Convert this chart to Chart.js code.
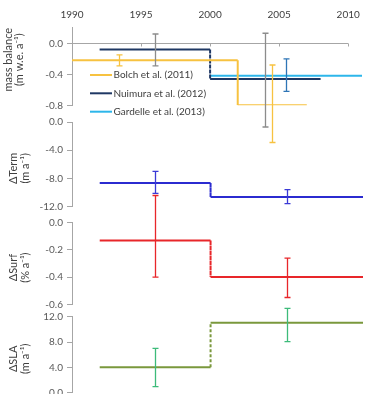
<!DOCTYPE html>
<html><head><meta charset="utf-8">
<script src="https://cdn.jsdelivr.net/npm/chart.js@4.4.0/dist/chart.umd.min.js"></script>
<style>
html,body{margin:0;padding:0;background:#fff;overflow:hidden;width:367px;height:394px}
canvas{position:absolute;left:0;top:0}
</style></head><body>
<canvas id="c1" width="367" height="420"></canvas>
<canvas id="c2" width="367" height="420"></canvas>
<canvas id="c3" width="367" height="420"></canvas>
<canvas id="c4" width="367" height="420"></canvas>
<script>
// ---- data ----
const years = [1990, 1995, 2000, 2005, 2010];
const mbTicks = [0, -0.4, -0.8];
const termTicks = [0, -4, -8, -12];
const surfTicks = [0, -0.2, -0.4, -0.6];
const slaTicks = [12, 8, 4, 0];

const legendLabels = ['Bolch et al. (2011)', 'Nuimura et al. (2012)', 'Gardelle et al. (2013)'];

const bolchPeriods = [[1990, 2002], [2002, 2007]];
const bolchValues = [-0.22, -0.80];
const bolchErrX = [1993.4, 2004.5];
const bolchErrLow = [-0.29, -1.28];
const bolchErrHigh = [-0.15, -0.28];

const nuimuraPeriods = [[1992, 2000], [2000, 2008]];
const nuimuraValues = [-0.08, -0.46];
const nuimuraErrX = [1996, 2004];
const nuimuraErrLow = [-0.29, -1.08];
const nuimuraErrHigh = [0.12, 0.13];

const gardellePeriods = [[2000, 2011]];
const gardelleValues = [-0.42];
const gardelleErrX = [2005.5];
const gardelleErrLow = [-0.62];
const gardelleErrHigh = [-0.20];

const periods = [[1992, 2000], [2000, 2011]];
const errX = [1996, 2005.5];
const termValues = [-8.65, -10.65];
const termErrLow = [-10.15, -11.6];
const termErrHigh = [-7.0, -9.6];
const surfValues = [-0.13, -0.40];
const surfErrLow = [-0.40, -0.55];
const surfErrHigh = [0.20, -0.26];
const slaValues = [4.0, 11.05];
const slaErrLow = [0.95, 8.05];
const slaErrHigh = [7.0, 13.3];

// ---- helpers ----
const FONT = 'Lato, "Open Sans", sans-serif';
const AXIS = '#A6A6A6';
function steps(per, vals) {
  const pts = [];
  per.forEach((p, i) => { pts.push({x: p[0], y: vals[i]}, {x: p[1], y: vals[i]}); });
  return pts;
}
function series(label, per, vals, color) {
  return {
    label, data: steps(per, vals), borderColor: color, backgroundColor: color,
    borderWidth: 2, pointRadius: 0, tension: 0, fill: false,
    segment: {borderDash: c => c.p0.parsed.x === c.p1.parsed.x ? [3, 2] : undefined}
  };
}
function errPlugin(bars) {
  return {
    id: 'errorBars',
    afterDatasetsDraw(chart) {
      const ctx = chart.ctx, xs = chart.scales.x, ys = chart.scales.y;
      bars.forEach(b => {
        b.x.forEach((xv, i) => {
          const px = Math.round(xs.getPixelForValue(xv)) + 0.5;
          const y1 = ys.getPixelForValue(b.low[i]);
          const y2 = ys.getPixelForValue(b.high[i]);
          ctx.save();
          ctx.strokeStyle = b.color; ctx.lineWidth = 1.3;
          ctx.beginPath();
          ctx.moveTo(px, y1); ctx.lineTo(px, y2);
          ctx.moveTo(px - 3, y1); ctx.lineTo(px + 3, y1);
          ctx.moveTo(px - 3, y2); ctx.lineTo(px + 3, y2);
          ctx.stroke();
          ctx.restore();
        });
      });
    }
  };
}
const zeroLinePlugin = {
  id: 'zeroLine',
  beforeDatasetsDraw(chart) {
    const ctx = chart.ctx, xs = chart.scales.x, ys = chart.scales.y;
    const y = Math.round(ys.getPixelForValue(0)) + 0.5;
    ctx.save();
    ctx.strokeStyle = AXIS; ctx.lineWidth = 1;
    ctx.beginPath();
    ctx.moveTo(xs.getPixelForValue(years[0]), y);
    ctx.lineTo(xs.getPixelForValue(years[years.length - 1]), y);
    years.forEach(v => {
      const px = Math.round(xs.getPixelForValue(v)) + 0.5;
      ctx.moveTo(px, y); ctx.lineTo(px, y + 3);
    });
    ctx.stroke();
    ctx.restore();
  }
};
const legendPlugin = {
  id: 'insideLegend',
  afterDatasetsDraw(chart) {
    const ctx = chart.ctx;
    const rows = [75, 93.3, 111.7];
    ctx.save();
    chart.data.datasets.forEach((ds, i) => {
      ctx.strokeStyle = ds.borderColor; ctx.lineWidth = 2;
      ctx.beginPath(); ctx.moveTo(90, rows[i]); ctx.lineTo(112, rows[i]); ctx.stroke();
      ctx.fillStyle = '#404040';
      ctx.font = '10px ' + FONT;
      ctx.textBaseline = 'middle'; ctx.textAlign = 'left';
      ctx.fillText(ds.label, 113.5, rows[i]);
    });
    ctx.restore();
  }
};

function panel(id, cfg) {
  const xScale = {
    type: 'linear', min: 1990, max: 2011, display: !!cfg.showX, position: 'top',
    afterBuildTicks: s => { s.ticks = years.map(v => ({value: v})); },
    ticks: {callback: v => String(v), color: '#404040', font: {family: FONT, size: 10}, padding: 7, maxRotation: 0, autoSkip: false},
    grid: {display: false, drawTicks: false},
    border: {display: false}
  };
  if (cfg.showX) xScale.afterFit = s => { s.height = 20; };
  return new Chart(document.getElementById(id), {
    type: 'line',
    data: {datasets: cfg.datasets},
    options: {
      responsive: false, animation: false, devicePixelRatio: 1, events: [],
      layout: {padding: {left: 0, right: 4, top: cfg.top, bottom: 420 - cfg.bottom}},
      plugins: {legend: {display: false}, tooltip: {enabled: false}},
      scales: {
        x: xScale,
        y: {
          type: 'linear', min: cfg.min, max: cfg.max,
          afterFit: s => { s.width = 72; },
          afterBuildTicks: s => { s.ticks = cfg.ticks.map(v => ({value: v})); },
          ticks: {callback: v => Number(v).toFixed(1), color: '#595959', font: {family: FONT, size: 10}, padding: 4},
          grid: {drawOnChartArea: false, drawTicks: true, tickLength: 5, color: AXIS},
          border: {color: AXIS, width: 1},
          title: {display: true, text: cfg.title, color: '#404040',
                  font: {family: FONT, size: 11, lineHeight: 1.05}, padding: {top: cfg.titlePad, bottom: 0}}
        }
      }
    },
    plugins: cfg.plugins
  });
}

// ---- panels ----
panel('c1', {
  showX: true, top: 7.8, bottom: 105.3, min: -0.8, max: 0.2, ticks: mbTicks,
  title: ['\u2003\u2002mass balance', '\u2003\u2002(m w.e. a\u207B\u00B9)'], titlePad: 2.5,
  datasets: [
    series(legendLabels[0], bolchPeriods, bolchValues, '#F7C240'),
    series(legendLabels[1], nuimuraPeriods, nuimuraValues, '#1F3864'),
    series(legendLabels[2], gardellePeriods, gardelleValues, '#2DB6EA')
  ],
  plugins: [zeroLinePlugin, errPlugin([
    {x: bolchErrX, low: bolchErrLow, high: bolchErrHigh, color: '#F7C240'},
    {x: nuimuraErrX, low: nuimuraErrLow, high: nuimuraErrHigh, color: '#8C8C8C'},
    {x: gardelleErrX, low: gardelleErrLow, high: gardelleErrHigh, color: '#2E75B6'}
  ]), legendPlugin]
});
panel('c2', {
  top: 122, bottom: 206.5, min: -12, max: 0, ticks: termTicks,
  title: ['\u0394Term\u2003', '(m a\u207B\u00B9)\u2003'], titlePad: 8,
  datasets: [series('\u0394Term', periods, termValues, '#2B2BD0')],
  plugins: [errPlugin([{x: errX, low: termErrLow, high: termErrHigh, color: '#3A3AD6'}])]
});
panel('c3', {
  top: 222.7, bottom: 304.3, min: -0.6, max: 0, ticks: surfTicks,
  title: ['\u0394Surf\u2003', '(% a\u207B\u00B9)\u2003'], titlePad: 8,
  datasets: [series('\u0394Surf', periods, surfValues, '#E8262A')],
  plugins: [errPlugin([{x: errX, low: surfErrLow, high: surfErrHigh, color: '#E8262A'}])]
});
panel('c4', {
  top: 316.7, bottom: 392.7, min: 0, max: 12, ticks: slaTicks,
  title: ['\u0394SLA\u2003', '(m a\u207B\u00B9)\u2003'], titlePad: 8,
  datasets: [series('\u0394SLA', periods, slaValues, '#7A983C')],
  plugins: [errPlugin([{x: errX, low: slaErrLow, high: slaErrHigh, color: '#3DBB7A'}])]
});
</script>
</body></html>
